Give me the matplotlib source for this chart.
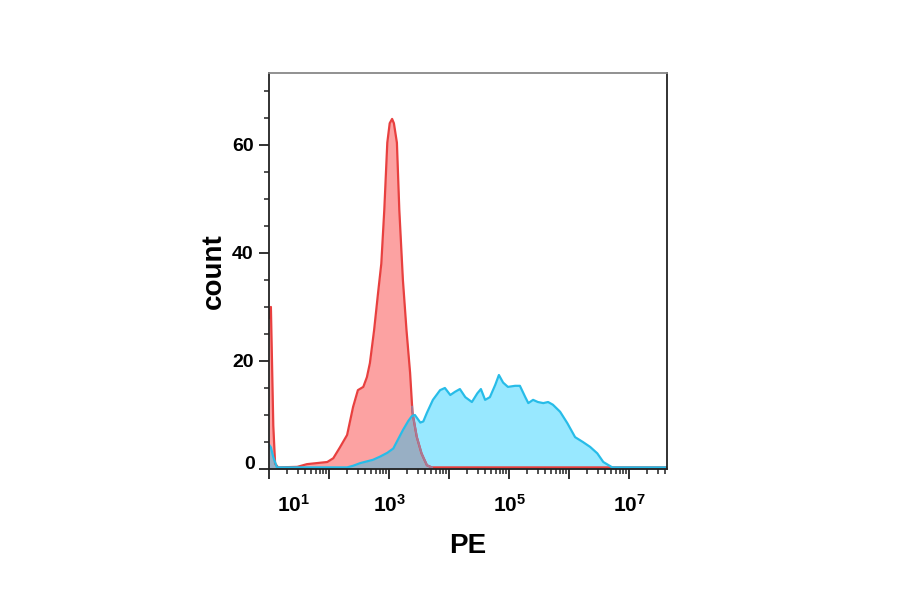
import numpy as np
import matplotlib.pyplot as plt
from matplotlib.ticker import FixedLocator, MultipleLocator, NullFormatter, LogLocator
from matplotlib.transforms import ScaledTranslation

plt.rcParams['font.family'] = ['Liberation Sans', 'DejaVu Sans']
plt.rcParams['font.weight'] = 'bold'
plt.rcParams['mathtext.fontset'] = 'custom'
plt.rcParams['mathtext.rm'] = 'Liberation Sans:bold'
plt.rcParams['mathtext.bf'] = 'Liberation Sans:bold'

# Histogram outlines (x as log10 of PE, y as count)
red_log = [1.00, 1.03, 1.07, 1.10, 1.15, 1.47, 1.63, 1.97, 2.07, 2.18, 2.30, 2.40,
           2.48, 2.57, 2.63, 2.68, 2.75, 2.82, 2.87, 2.92, 2.97, 3.01, 3.05, 3.08,
           3.13, 3.17, 3.23, 3.29, 3.35, 3.39, 3.46, 3.54, 3.63, 3.71, 7.63]
red_count = [28, 30, 8, 1, 0.3, 0.4, 0.9, 1.3, 2, 4, 6.3, 11.5,
             14.6, 15.2, 17, 19.6, 25.7, 33, 38, 48, 60.4, 64, 64.8, 64,
             60.4, 48, 35, 25.7, 17.8, 10.4, 6, 2.9, 0.7, 0.3, 0.3]

blue_log = [1.00, 1.03, 1.07, 1.13, 2.30, 2.40, 2.52, 2.73, 2.85, 2.97, 3.07, 3.23,
            3.32, 3.38, 3.43, 3.52, 3.57, 3.63, 3.73, 3.85, 3.93, 4.02, 4.10, 4.18,
            4.27, 4.38, 4.47, 4.53, 4.60, 4.68, 4.77, 4.83, 4.90, 4.98, 5.10, 5.18,
            5.27, 5.32, 5.40, 5.48, 5.57, 5.65, 5.73, 5.85, 5.97, 6.10, 6.23, 6.35,
            6.47, 6.57, 6.72, 7.63]
blue_count = [4.5, 4, 2.2, 0.3, 0.3, 0.6, 1.1, 1.7, 2.3, 3.0, 3.8, 7.2,
              8.9, 9.8, 10, 8.6, 8.8, 10.4, 12.8, 14.6, 15, 13.7, 14.3, 14.8,
              13.3, 12.4, 14, 14.8, 12.8, 13.3, 15.6, 17.4, 16, 15.2, 15.4, 15.4,
              13.3, 12.2, 12.8, 12.4, 12.2, 12.4, 11.9, 10.6, 8.5, 5.9, 5, 4.1,
              2.9, 1.3, 0.3, 0.3]

xtick_exp = [1, 2, 3, 4, 5, 6, 7]

red_x = 10.0 ** np.array(red_log)
blue_x = 10.0 ** np.array(blue_log)

# common grid for the overlapping part
grid_log = np.linspace(1.0, 7.63, 1500)
red_g = np.interp(grid_log, red_log, red_count)
blue_g = np.interp(grid_log, blue_log, blue_count)
overlap = np.minimum(red_g, blue_g)

fig = plt.figure(figsize=(9, 5.94), dpi=100)
ax = fig.add_axes([0.299, 0.2104, 0.442, 0.6667])

ax.fill_between(red_x, 0, red_count, color='#fca2a2', lw=0)
ax.fill_between(blue_x, 0, blue_count, color='#98e8ff', lw=0)
ax.fill_between(10.0 ** grid_log, 0, overlap, color='#98afc4', lw=0)
ax.plot(red_x, red_count, color='#e8403f', lw=1.6)
# red outline seen through the blue fill
mute = np.ma.masked_where((grid_log < 3.38) | (grid_log > 3.72), red_g)
ax.plot(10.0 ** grid_log, mute, color='#a57a98', lw=1.4)
ax.plot(blue_x, blue_count, color='#27bce8', lw=1.6)

ax.set_xscale('log')
ax.set_xlim(10, 10 ** 7.63)
ax.set_ylim(0, 73.3)

ax.xaxis.set_major_locator(FixedLocator([10.0 ** e for e in xtick_exp]))
ax.xaxis.set_minor_locator(LogLocator(base=10, subs=np.arange(2, 10), numticks=20))
ax.xaxis.set_minor_formatter(NullFormatter())
ax.set_xticklabels(['' if (e % 2 == 0 or e == 1) else r'$\mathbf{10^{%d}}$' % e for e in xtick_exp],
                   fontsize=15)

ax.yaxis.set_major_locator(MultipleLocator(20))
ax.yaxis.set_minor_locator(MultipleLocator(5))
ax.set_yticks([0, 20, 40, 60])
ax.set_yticklabels(['', '20', '40', '60'], fontsize=14)

ax.tick_params(which='major', length=7, width=1.3, color='#222222')
ax.tick_params(which='minor', length=3.5, width=1.1, color='#222222')
ax.tick_params(axis='x', pad=11)
ax.tick_params(axis='y', pad=4)

# left-edge labels sit a little off their ticks
ax.text(10, 0, r'$\mathbf{10^{1}}$', fontsize=15, ha='center', va='top',
        transform=ax.get_xaxis_transform() + ScaledTranslation(24 / 100, -25 / 100, fig.dpi_scale_trans))
ax.text(0, 0, '0', fontsize=14, ha='right', va='center', fontweight='bold',
        transform=ax.get_yaxis_transform() + ScaledTranslation(-14 / 100, 5 / 100, fig.dpi_scale_trans))

for side in ['left', 'bottom', 'right']:
    ax.spines[side].set_color('#222222')
    ax.spines[side].set_linewidth(1.3)
ax.spines['top'].set_color('#888888')
ax.spines['top'].set_linewidth(1.3)

ax.set_xlabel('PE', fontsize=20, fontweight='bold', labelpad=12)
ax.set_ylabel('count', fontsize=20, fontweight='bold', labelpad=4)

plt.savefig('out.png', dpi=100)
